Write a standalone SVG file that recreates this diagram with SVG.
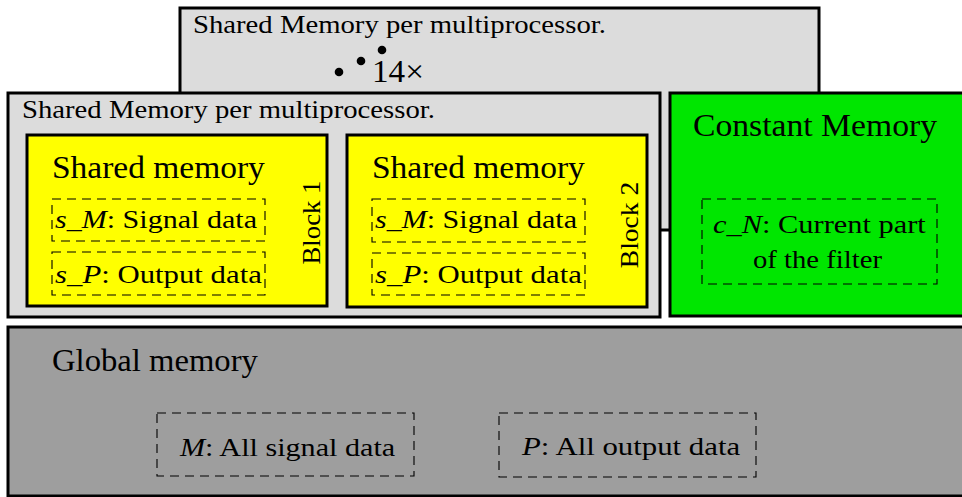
<svg xmlns="http://www.w3.org/2000/svg" width="962" height="497" viewBox="0 0 962 497">
  <style>
    text { font-family: "Liberation Serif", "Times New Roman", serif; fill: #000; }
    .box { stroke: #000; stroke-width: 3; }
    .mp { fill: #dcdcdc; }
    .blk { fill: #ffff00; }
    .const { fill: #00e600; }
    .glob { fill: #9e9e9e; }
    .dash { fill: none; stroke: #000; stroke-width: 1.1; stroke-dasharray: 9 6; }
    .t-sm { font-size: 26px; }
    .t-lg { font-size: 31px; }
    .it { font-style: italic; }
  </style>

  <!-- multiprocessor stacked behind -->
  <g id="mp-back">
    <rect class="box mp" x="180" y="8" width="639" height="222"/>
    <text class="t-sm" transform="translate(193 33) scale(1.105 1)">Shared Memory per multiprocessor.</text>
    <circle cx="339" cy="72" r="4.3"/>
    <circle cx="361" cy="61" r="4.3"/>
    <circle cx="382" cy="50" r="4.3"/>
    <text transform="translate(372 82) scale(1.07 1)" font-size="31">14×</text>
  </g>

  <!-- front multiprocessor -->
  <g id="mp-front">
    <rect class="box mp" x="8" y="93" width="652" height="224"/>
    <text class="t-sm" transform="translate(22 118) scale(1.105 1)">Shared Memory per multiprocessor.</text>
  </g>

  <!-- thread block 1 -->
  <g id="block1">
    <rect class="box blk" x="27" y="135" width="300" height="171"/>
    <text class="t-lg" transform="translate(52 178) scale(1.08 1)">Shared memory</text>
    <rect class="dash" x="52" y="199" width="213" height="42"/>
    <text class="t-sm" transform="translate(55 228) scale(1.156 1)"><tspan class="it">s</tspan>_<tspan class="it">M</tspan>: Signal data</text>
    <rect class="dash" x="52" y="252" width="213" height="43"/>
    <text class="t-sm" transform="translate(55 283) scale(1.184 1)"><tspan class="it">s</tspan>_<tspan class="it">P</tspan>: Output data</text>
    <text class="t-sm" transform="translate(320 222.5) rotate(-90) scale(1.03 1)" text-anchor="middle" font-size="25">Block 1</text>
  </g>

  <!-- thread block 2 -->
  <g id="block2">
    <rect class="box blk" x="347" y="135" width="300" height="172"/>
    <text class="t-lg" transform="translate(372 178) scale(1.08 1)">Shared memory</text>
    <rect class="dash" x="372" y="199" width="213" height="43"/>
    <text class="t-sm" transform="translate(375 228) scale(1.156 1)"><tspan class="it">s</tspan>_<tspan class="it">M</tspan>: Signal data</text>
    <rect class="dash" x="372" y="253" width="213" height="42"/>
    <text class="t-sm" transform="translate(375 283) scale(1.184 1)"><tspan class="it">s</tspan>_<tspan class="it">P</tspan>: Output data</text>
    <text class="t-sm" transform="translate(638 225) rotate(-90) scale(1.06 1)" text-anchor="middle">Block 2</text>
  </g>

  <!-- constant memory -->
  <g id="constant">
    <rect class="box const" x="670" y="93" width="300" height="223"/>
    <text class="t-lg" transform="translate(693 136) scale(1.086 1)">Constant Memory</text>
    <rect class="dash" x="702" y="199" width="235" height="85"/>
    <text class="t-sm" transform="translate(713 233) scale(1.17 1)"><tspan class="it">c</tspan>_<tspan class="it">N</tspan>: Current part</text>
    <text class="t-sm" transform="translate(753 268) scale(1.103 1)">of the filter</text>
  </g>

  <!-- global memory -->
  <g id="global">
    <rect class="box glob" x="8" y="327" width="962" height="169"/>
    <text class="t-lg" transform="translate(52 371) scale(1.054 1)">Global memory</text>
    <rect class="dash" x="157" y="413" width="257" height="63"/>
    <text class="t-sm" transform="translate(180 456) scale(1.16 1)"><tspan class="it">M</tspan>: All signal data</text>
    <rect class="dash" x="499" y="413" width="257" height="64"/>
    <text class="t-sm" transform="translate(522 455) scale(1.185 1)"><tspan class="it">P</tspan>: All output data</text>
  </g>
</svg>
